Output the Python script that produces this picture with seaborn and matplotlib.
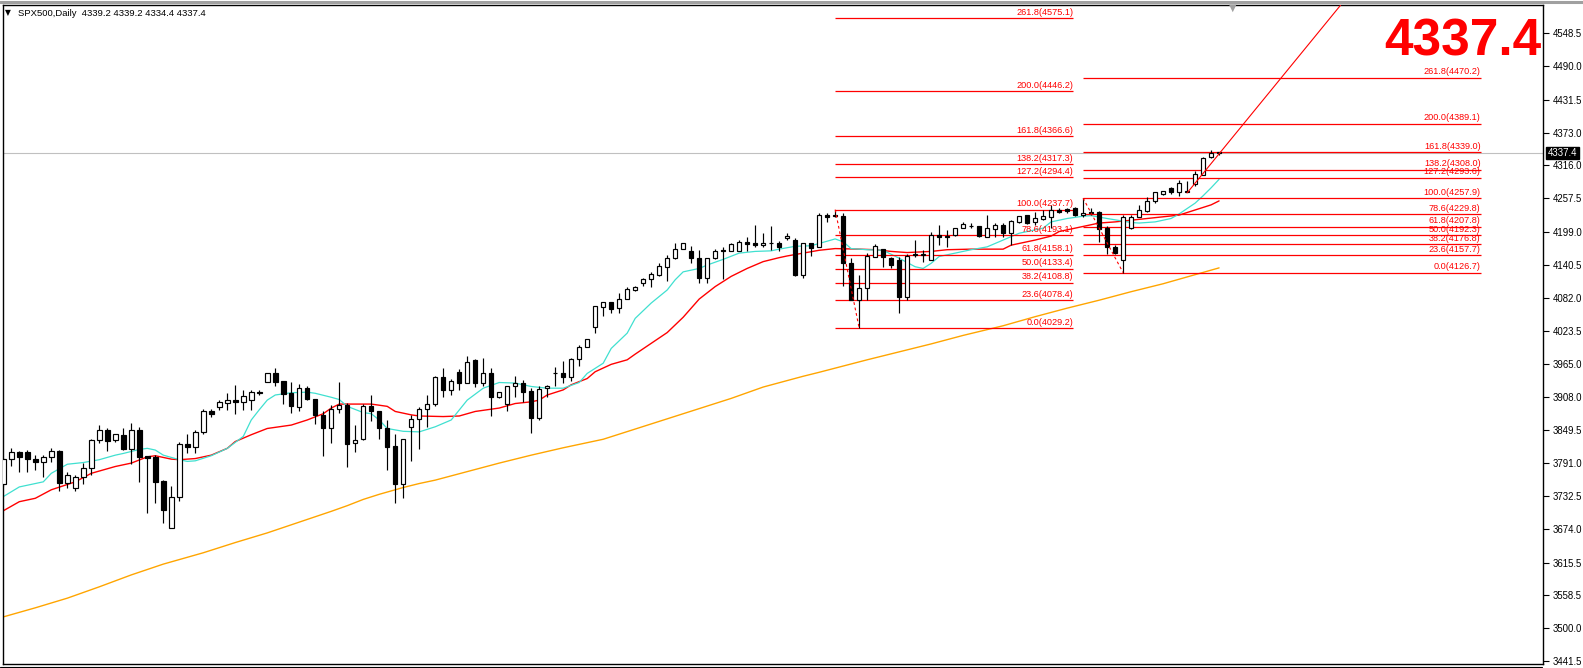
import numpy as np
import pandas as pd
import matplotlib
matplotlib.use("Agg")
import matplotlib.pyplot as plt
import matplotlib.transforms as mtransforms
from matplotlib.lines import Line2D
import seaborn as sns

# ---------------- data ----------------
opens = [3755, 3799, 3810, 3810, 3799, 3793, 3801, 3812, 3756, 3748,
         3766, 3782, 3832, 3850, 3832, 3840, 3815, 3849, 3803, 3802,
         3760, 3676, 3731, 3824, 3819, 3845, 3882, 3889, 3897, 3903,
         3899, 3902, 3916, 3934, 3949, 3936, 3914, 3890, 3923, 3904,
         3876, 3853, 3886, 3894, 3826, 3834, 3892, 3883, 3852, 3821,
         3755, 3854, 3868, 3886, 3895, 3942, 3919, 3951, 3932, 3973,
         3933, 3949, 3908, 3895, 3927, 3932, 3918, 3871, 3923, 3950,
         3949, 3942, 3974, 3995, 4031, 4066, 4074, 4064, 4081, 4096,
         4109, 4115, 4123, 4137, 4152, 4168, 4164, 4152, 4118, 4152,
         4167, 4165, 4165, 4181, 4179, 4175, 4179, 4179, 4187, 4184,
         4122, 4178, 4171, 4228, 4226.5, 4226, 4143, 4078.4, 4099, 4155,
         4169, 4152, 4149, 4084, 4157, 4157, 4149, 4193, 4191, 4193,
         4205, 4209, 4208, 4190, 4203, 4211, 4197, 4216, 4228, 4216,
         4221, 4225, 4237, 4238, 4240, 4228, 4233.5, 4234, 4205, 4172,
         4148, 4206, 4224, 4236, 4252, 4266, 4275, 4269, 4269, 4283,
         4299, 4330, 4339.2]
highs = [3800, 3818, 3813, 3814, 3805, 3805, 3817, 3814, 3776, 3770,
         3791, 3834, 3858, 3852, 3843, 3852, 3861, 3854, 3804, 3805,
         3762, 3751, 3829, 3842, 3850, 3886, 3886, 3902, 3914, 3929,
         3920, 3920, 3920, 3949, 3958, 3936, 3934, 3930, 3926, 3904,
         3882, 3893, 3934, 3897, 3858, 3896, 3911, 3883, 3867, 3842,
         3833, 3876, 3889, 3911, 3944, 3958, 3940, 3956, 3980, 3974,
         3977, 3958, 3917, 3927, 3945, 3938, 3923, 3926, 3929, 3961,
         3971, 3976, 3999, 4009, 4067, 4074, 4074, 4091, 4101, 4103,
         4118, 4127, 4144, 4158, 4178, 4178, 4174, 4167, 4152, 4168,
         4172, 4179, 4184, 4190, 4211, 4197, 4209, 4183, 4196, 4187,
         4178, 4178, 4232, 4231, 4237.7, 4231, 4152, 4122, 4161, 4177,
         4169, 4155, 4155, 4160, 4184, 4167, 4199, 4211, 4202, 4205,
         4216, 4214, 4208, 4228, 4214, 4214, 4219, 4226, 4228, 4234,
         4237, 4246, 4240, 4240, 4242, 4257.9, 4240, 4235, 4208, 4175,
         4228, 4228, 4246, 4260, 4269, 4270, 4278, 4290, 4288, 4306,
         4331, 4342, 4339.2]
lows = [3750, 3786, 3775, 3775, 3779, 3767, 3793, 3741, 3747, 3742,
        3754, 3770, 3826, 3813, 3829, 3814, 3789, 3758, 3703, 3721,
        3685, 3676, 3725, 3808, 3808, 3842, 3873, 3885, 3885, 3877,
        3885, 3885, 3911, 3934, 3926, 3896, 3880, 3882, 3902, 3860,
        3803, 3827, 3879, 3785, 3811, 3832, 3866, 3833, 3779, 3720,
        3729, 3795, 3815, 3855, 3891, 3908, 3911, 3920, 3932, 3925,
        3926, 3874, 3905, 3883, 3907, 3898, 3844, 3867, 3908, 3927,
        3933, 3936, 3962, 3995, 4020, 4050, 4055, 4056, 4080, 4095,
        4103, 4101, 4120, 4111, 4150, 4168, 4144, 4109, 4109, 4150,
        4115, 4165, 4164, 4165, 4172, 4171, 4167, 4165, 4184, 4120,
        4117, 4156, 4171, 4215, 4224, 4103, 4078, 4029.2, 4078, 4155,
        4137, 4134, 4055, 4078, 4155, 4146, 4149, 4175, 4172, 4191,
        4205, 4205, 4189, 4189, 4189, 4189, 4175, 4214, 4212, 4211,
        4219, 4205, 4231, 4232, 4226, 4225, 4228, 4181, 4159, 4159,
        4126.7, 4203, 4224, 4234, 4250, 4263, 4265, 4262, 4268, 4279,
        4299, 4328, 4334.4]
closes = [3798, 3810, 3802, 3799, 3793, 3801, 3812, 3756, 3770, 3766,
          3782, 3832, 3850, 3830, 3842, 3815, 3849, 3801, 3800, 3758,
          3708, 3731, 3824, 3819, 3846, 3882, 3877, 3899, 3903, 3899,
          3909, 3916, 3914, 3949, 3934, 3913, 3892, 3923, 3904, 3876,
          3853, 3886, 3893, 3825, 3832, 3892, 3883, 3853, 3820, 3754,
          3833, 3868, 3886, 3895, 3942, 3919, 3936, 3932, 3970, 3933,
          3949, 3908, 3917, 3927, 3932, 3917, 3871, 3921, 3927, 3949,
          3943, 3974, 3995, 4009, 4067, 4074, 4063, 4081, 4097, 4101,
          4115, 4124, 4138, 4152, 4168, 4178, 4152, 4118, 4152, 4165,
          4165, 4177, 4181, 4177, 4175, 4179, 4179.5, 4172, 4191, 4122,
          4178, 4170, 4228, 4224, 4227.6, 4143, 4078.4, 4099, 4156, 4174,
          4155, 4140, 4084, 4156, 4160, 4159, 4193, 4190, 4189, 4205,
          4212, 4209, 4191, 4205, 4211, 4197, 4218, 4226, 4214, 4222,
          4226, 4237, 4234, 4235, 4228, 4231, 4231, 4203, 4171, 4162,
          4224, 4224, 4237, 4253, 4268, 4270, 4268, 4285, 4270, 4300,
          4328, 4337, 4337.4]

# moving averages (bar index, value)
ma_fast_x = [0, 2, 5, 6, 8, 10, 12, 14, 15, 17, 18, 19, 20, 22, 23, 24, 26, 28, 30, 31,
             32, 33, 34, 36, 38, 39, 41, 42, 43, 45, 46, 47, 48, 50, 52, 54, 56, 58, 60, 62,
             64, 66, 68, 70, 72, 73, 75, 76, 78, 79, 81, 83, 84, 85, 87, 88, 90, 92, 94, 96,
             97, 99, 101, 102, 104, 105, 106, 108, 110, 112, 114, 115, 116, 117, 120, 121, 123,
             125, 127, 130, 131, 133, 135, 136, 138, 141, 142, 144, 146, 147, 149, 150, 151, 152]
ma_fast_y = [3732, 3749, 3758, 3773, 3789, 3792, 3797, 3805, 3808, 3815, 3817, 3814, 3805,
             3797, 3794, 3795, 3804, 3817, 3838, 3867, 3885, 3902, 3911, 3915, 3916, 3914,
             3907, 3903, 3891, 3880, 3878, 3867, 3852, 3847, 3846, 3855, 3867, 3902, 3923,
             3933, 3932, 3926, 3923, 3923, 3933, 3949, 3967, 3993, 4020, 4046, 4073, 4096,
             4114, 4128, 4134, 4140, 4150, 4161, 4164, 4165, 4168, 4173, 4174, 4178, 4186,
             4181, 4169, 4167, 4166, 4152, 4137, 4134, 4143, 4155, 4164, 4167, 4172, 4184,
             4196, 4205, 4216, 4222, 4226, 4227, 4222, 4215, 4214, 4216, 4222, 4230, 4249,
             4262, 4276, 4291]
ma_mid_x = [0, 2, 4, 6, 9, 11, 14, 16, 18, 19, 21, 22, 24, 26, 28, 29, 31, 33, 36, 38,
            40, 41, 42, 44, 46, 48, 49, 51, 52, 55, 57, 59, 61, 62, 64, 66, 67, 68, 70, 71,
            73, 74, 76, 78, 79, 81, 83, 85, 87, 89, 91, 93, 94, 95, 97, 98, 100, 102, 104,
            107, 109, 111, 113, 116, 118, 121, 123, 125, 126, 129, 131, 132, 134, 136, 137,
            139, 141, 143, 145, 147, 149, 151, 152]
ma_mid_y = [3707, 3723, 3729, 3744, 3758, 3773, 3785, 3791, 3802, 3804, 3798, 3797, 3799,
            3805, 3817, 3829, 3841, 3852, 3858, 3867, 3878, 3888, 3895, 3895, 3895, 3891,
            3882, 3876, 3874, 3873, 3874, 3882, 3886, 3888, 3896, 3899, 3902, 3911, 3920,
            3929, 3940, 3952, 3965, 3973, 3983, 4002, 4021, 4048, 4080, 4102, 4120, 4134,
            4140, 4146, 4153, 4156, 4161, 4166, 4169, 4168, 4167, 4164, 4162, 4164, 4167,
            4168, 4168, 4168, 4175, 4184, 4191, 4199, 4205, 4211, 4214, 4216, 4219, 4222,
            4225, 4228, 4237, 4246, 4253]
ma_slow_x = [0, 4, 8, 12, 16, 20, 25, 29, 33, 37, 41, 43, 45, 47, 50, 52, 54, 58, 62, 66,
             70, 75, 79, 83, 87, 91, 95, 100, 102, 108, 112, 116, 120, 125, 129, 133, 137,
             141, 145, 147, 150, 152]
ma_slow_y = [3520, 3536, 3553, 3573, 3594, 3613, 3633, 3651, 3668, 3687, 3706, 3716, 3727,
             3736, 3748, 3755, 3761, 3776, 3791, 3805, 3818, 3833, 3851, 3869, 3887, 3905,
             3925, 3944, 3951, 3973, 3987, 4001, 4016, 4033, 4049, 4064, 4078, 4093, 4107,
             4115, 4127, 4135]

# Fibonacci retracements
fib_pcts = ["0.0", "23.6", "38.2", "50.0", "61.8", "78.6", "100.0", "127.2", "138.2",
            "161.8", "200.0", "261.8"]
fib1_levels = [4029.2, 4078.4, 4108.8, 4133.4, 4158.1, 4193.1, 4237.7, 4294.4, 4317.3,
               4366.6, 4446.2, 4575.1]
fib2_levels = [4126.7, 4157.7, 4176.8, 4192.3, 4207.8, 4229.8, 4257.9, 4293.6, 4308.0,
               4339.0, 4389.1, 4470.2]
fib1_anchor_x = [104, 107]
fib1_anchor_y = [4237.7, 4029.2]
fib2_anchor_x = [135, 140]
fib2_anchor_y = [4257.9, 4126.7]
trend_x = [148, 167.2]
trend_y = [4267, 4598]

last_price = 4337.4
title_text = "SPX500,Daily  4339.2 4339.2 4334.4 4337.4"
ytick_vals = [3441.5, 3500.0, 3558.5, 3615.5, 3674.0, 3732.5, 3791.0, 3849.5, 3908.0,
              3965.0, 4023.5, 4082.0, 4140.5, 4199.0, 4257.5, 4316.0, 4373.0, 4431.5,
              4490.0, 4548.5]

# ---------------- plotting ----------------
sns.set_style("white")
plt.rcParams['font.family'] = ['Liberation Sans', 'DejaVu Sans']

W, H = 1583, 668
fig = plt.figure(figsize=(W / 100, H / 100), dpi=100)
fig.patch.set_facecolor("white")
ax = fig.add_axes([3 / W, 4 / H, 1540 / W, 659 / H])
ax.set_facecolor("white")

df = pd.DataFrame({"o": opens, "h": highs, "l": lows, "c": closes})
df["x"] = np.arange(len(df))
up = df["c"] >= df["o"]

lw = 0.85
# wicks
ax.vlines(df["x"], df["l"], df["h"], color="black", lw=lw, zorder=3)
# bodies
bw = 0.56
body_bottom = np.minimum(df["o"], df["c"])
body_h = np.maximum(np.abs(df["c"] - df["o"]), 0.4)
ax.bar(df["x"][up], body_h[up], bottom=body_bottom[up], width=bw,
       color="white", edgecolor="black", linewidth=lw, zorder=4)
ax.bar(df["x"][~up], body_h[~up], bottom=body_bottom[~up], width=bw,
       color="black", edgecolor="black", linewidth=lw, zorder=4)

# moving averages
sns.lineplot(x=ma_slow_x, y=ma_slow_y, ax=ax, color="#FFA500", lw=1.0, zorder=2)
sns.lineplot(x=ma_mid_x, y=ma_mid_y, ax=ax, color="#FF0000", lw=1.0, zorder=2)
sns.lineplot(x=ma_fast_x, y=ma_fast_y, ax=ax, color="#40E0D0", lw=0.9, zorder=2)

# current price line
ax.axhline(last_price, color="#C0C0C0", lw=0.8, zorder=1)

# fibonacci levels
fib1_span = (104, 133.75)
fib2_span = (135, 184.7)
for span, levels in ((fib1_span, fib1_levels), (fib2_span, fib2_levels)):
    ax.hlines(levels, span[0], span[1], color="#FF0000", lw=0.9, zorder=2)
    for p, lv in zip(fib_pcts, levels):
        ax.annotate(f"{p}({lv:.1f})", xy=(span[1], lv), xytext=(0, 1),
                    textcoords="offset points", ha="right", va="bottom",
                    fontsize=6.6, color="#FF0000", zorder=5)
ax.plot(fib1_anchor_x, fib1_anchor_y, color="#FF0000", lw=0.8, ls=(0, (2.5, 2.5)), zorder=5)
ax.plot(fib2_anchor_x, fib2_anchor_y, color="#FF0000", lw=0.8, ls=(0, (2.5, 2.5)), zorder=5)
ax.plot(trend_x, trend_y, color="#FF0000", lw=0.8, zorder=5)

# axes limits / ticks
ax.set_xlim(-0.04, 192.5)
ax.set_ylim(3437.0, 4598.2)
ax.set_xticks([])
ax.yaxis.tick_right()
ax.set_yticks(ytick_vals)
ax.set_yticklabels([f"{v:.1f}" for v in ytick_vals])
ax.tick_params(axis="y", direction="out", length=4, width=0.8, labelsize=6.9,
               pad=3, colors="black", right=True, left=False)
for s in ax.spines.values():
    s.set_color("black")
    s.set_linewidth(1.0)
ax.grid(False)

# last price tag on axis
trans = mtransforms.blended_transform_factory(ax.transAxes, ax.transData)
ax.text(1.003, last_price, "4337.4", transform=trans, ha="left", va="center",
        fontsize=6.9, color="white",
        bbox=dict(boxstyle="square,pad=0.15", fc="black", ec="black"), clip_on=False)

# big price text
fig.text(1541 / W, 1 - 55 / H, "4337.4", ha="right", va="baseline",
         fontsize=37, fontweight="bold", color="#FF0000")

# title
fig.text(5 / W, 1 - 13 / H, "\u25BC", ha="left", va="center", fontsize=5.5,
         color="black", family=["DejaVu Sans"])
fig.text(18 / W, 1 - 13 / H, title_text, ha="left", va="center", fontsize=6.8,
         color="black")

# chart shift marker
fig.text(1233 / W, 1 - 8 / H, "\u25BC", ha="center", va="center", fontsize=7,
         color="#A0A0A0", family=["DejaVu Sans"])

# window frame lines
fig.add_artist(Line2D([0, 1], [1 - 1.5 / H, 1 - 1.5 / H], color="#A0A0A0", lw=2.2))
fig.add_artist(Line2D([0, 1542 / W], [1 - 666.5 / H, 1 - 666.5 / H], color="black", lw=0.8))

fig.savefig("out.png", dpi=100)
